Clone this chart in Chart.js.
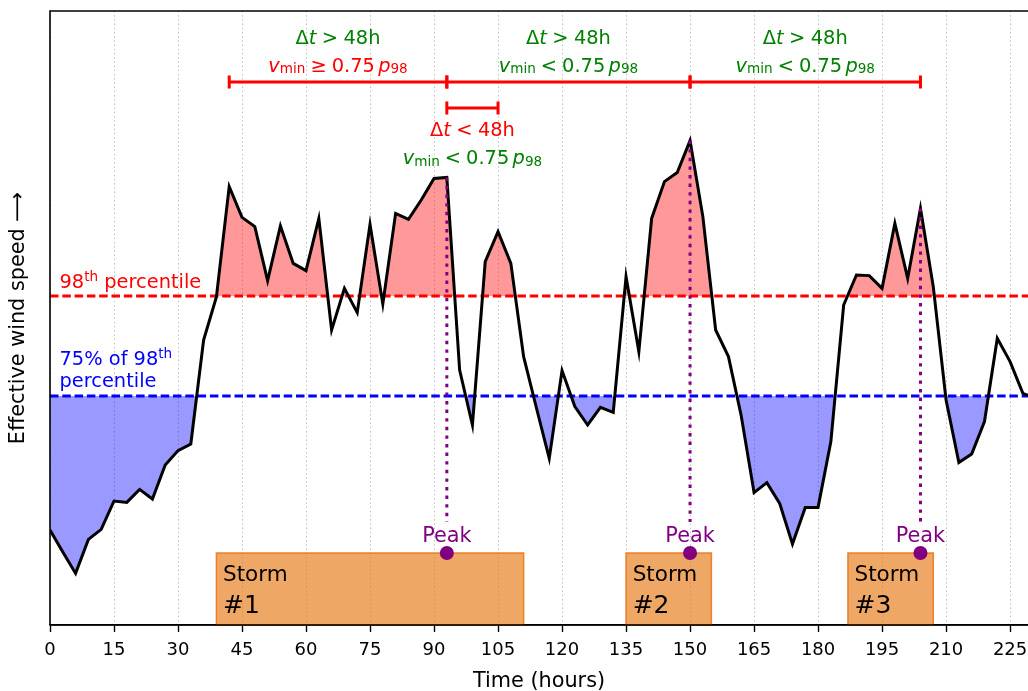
<!DOCTYPE html>
<html>
<head>
<meta charset="utf-8">
<script src="https://cdn.jsdelivr.net/npm/chart.js@4.4.1/dist/chart.umd.min.js"></script>
<style>
  html, body { margin: 0; padding: 0; background: #fff; overflow: hidden; }
  canvas { display: block; }
</style>
</head>
<body>
<canvas id="chart" width="1028" height="691"></canvas>
<script>
// Time axis (hours) and the effective wind speed sampled every 3 hours
const hours = [0, 3, 6, 9, 12, 15, 18, 21, 24, 27, 30, 33, 36, 39, 42, 45, 48, 51, 54, 57,
  60, 63, 66, 69, 72, 75, 78, 81, 84, 87, 90, 93, 96, 99, 102, 105, 108, 111, 114, 117,
  120, 123, 126, 129, 132, 135, 138, 141, 144, 147, 150, 153, 156, 159, 162, 165, 168, 171, 174, 177,
  180, 183, 186, 189, 192, 195, 198, 201, 204, 207, 210, 213, 216, 219, 222, 225, 228, 231];
const windSpeed = [8.3, 7.2, 6.13, 7.83, 8.33, 9.75, 9.68, 10.33, 9.85, 11.55, 12.27, 12.6, 17.8, 19.95, 25.47, 23.93, 23.47, 20.77, 23.5, 21.63,
  21.27, 23.88, 18.3, 20.38, 19.17, 23.58, 19.6, 24.13, 23.83, 24.8, 25.88, 25.93, 16.3, 13.55, 21.72, 23.22, 21.63, 16.97, 14.4, 11.88,
  16.27, 14.47, 13.55, 14.43, 14.18, 20.97, 17.22, 23.88, 25.72, 26.17, 27.77, 23.97, 18.3, 16.97, 14.0, 10.17, 10.67, 9.63, 7.6, 9.43,
  9.43, 12.72, 19.55, 21.05, 21.02, 20.38, 23.63, 20.88, 24.38, 20.47, 14.8, 11.67, 12.1, 13.72, 17.88, 16.72, 15.13, 14.9];

// Thresholds
const p98 = 20;            // 98th percentile
const p98Fraction = 0.75;  // 75% of the 98th percentile
const p75 = p98 * p98Fraction;

// Axis
const xTicks = [0, 15, 30, 45, 60, 75, 90, 105, 120, 135, 150, 165, 180, 195, 210, 225];
const xMin = 0, xMax = 229.2;
const yMin = 3.55, yMax = 34.25;

// Storm peaks and storm windows
const peakHours = [93, 150, 204];
const peakMarkerLevel = 7.15;
const peakLineEnd = 8.7;
const stormStart = [39, 135, 187];
const stormEnd = [111, 155, 207];
const stormTop = 7.15;
const stormNames = ['#1', '#2', '#3'];

// Separation intervals between consecutive peaks
const intervalStart = [42, 93, 150, 93];
const intervalEnd = [93, 150, 204, 105];
const intervalLevel = [30.7, 30.7, 30.7, 29.4];
const intervalDt = ['>', '>', '>', '<'];
const intervalVmin = ['≥', '<', '<', '<'];

const FAMILY = '"DejaVu Sans", "Liberation Sans", sans-serif';
const GREEN = '#008000', RED = '#ff0000', BLUE = '#0000ff', PURPLE = '#800080';

function fontOf(size, italic) {
  return (italic ? 'italic ' : '') + size + 'px ' + FAMILY;
}
function runsWidth(ctx, runs, size) {
  let w = 0;
  for (const r of runs) {
    if (r.gap) { w += r.gap * size; continue; }
    const s = (r.sub || r.sup) ? size * 0.7 : size;
    ctx.font = fontOf(s, r.it);
    w += ctx.measureText(r.t).width;
  }
  return w;
}
function drawRuns(ctx, runs, x, y, size, color, align) {
  const w = runsWidth(ctx, runs, size);
  let cx = align === 'center' ? x - w / 2 : x;
  ctx.fillStyle = color;
  ctx.textAlign = 'left';
  ctx.textBaseline = 'alphabetic';
  for (const r of runs) {
    if (r.gap) { cx += r.gap * size; continue; }
    const s = (r.sub || r.sup) ? size * 0.7 : size;
    ctx.font = fontOf(s, r.it);
    const dy = r.sub ? size * 0.1 : (r.sup ? -size * 0.38 : 0);
    ctx.fillText(r.t, cx, y + dy);
    cx += ctx.measureText(r.t).width;
  }
}
const dtRuns = rel => [{ t: 'Δ' }, { t: 't', it: true }, { gap: 0.28 }, { t: rel }, { gap: 0.28 }, { t: '48h' }];
const vminRuns = rel => [{ t: 'v', it: true }, { t: 'min', sub: true }, { gap: 0.26 }, { t: rel }, { gap: 0.26 },
  { t: '0.75' }, { gap: 0.17 }, { t: 'p', it: true }, { t: '98', sub: true }];

// Storm boxes sit underneath the curves
const stormBoxes = {
  id: 'stormBoxes',
  beforeDatasetsDraw(chart) {
    const { ctx, scales: { x, y }, chartArea } = chart;
    ctx.save();
    for (let i = 0; i < stormStart.length; i++) {
      const l = x.getPixelForValue(stormStart[i]);
      const r = x.getPixelForValue(stormEnd[i]);
      const t = y.getPixelForValue(stormTop);
      const b = chartArea.bottom;
      ctx.fillStyle = 'rgba(232,125,30,0.68)';
      ctx.fillRect(l, t, r - l, b - t);
      ctx.strokeStyle = 'rgba(236,120,25,0.9)';
      ctx.lineWidth = 1.5;
      ctx.strokeRect(l, t, r - l, b - t);
      ctx.fillStyle = '#000';
      ctx.textAlign = 'left';
      ctx.textBaseline = 'alphabetic';
      ctx.font = fontOf(21.5);
      ctx.fillText('Storm', l + 6.6, t + 28);
      ctx.font = fontOf(25);
      ctx.fillText(stormNames[i], l + 6.6, t + 60);
    }
    ctx.restore();
  }
};

// Labels, interval bars and frame
const annotations = {
  id: 'annotations',
  afterDatasetsDraw(chart) {
    const { ctx, scales: { x, y }, chartArea } = chart;
    ctx.save();

    // interval bars with end caps
    for (let i = 0; i < intervalStart.length; i++) {
      const x1 = x.getPixelForValue(intervalStart[i]);
      const x2 = x.getPixelForValue(intervalEnd[i]);
      const py = y.getPixelForValue(intervalLevel[i]);
      ctx.strokeStyle = RED;
      ctx.lineWidth = 3;
      ctx.lineCap = 'butt';
      ctx.beginPath();
      ctx.moveTo(x1, py); ctx.lineTo(x2, py);
      ctx.moveTo(x1, py - 6.5); ctx.lineTo(x1, py + 6.5);
      ctx.moveTo(x2, py - 6.5); ctx.lineTo(x2, py + 6.5);
      ctx.stroke();

      const cx = x.getPixelForValue((intervalStart[i] + intervalEnd[i]) / 2);
      const dtColor = intervalDt[i] === '>' ? GREEN : RED;
      const vColor = intervalVmin[i] === '<' ? GREEN : RED;
      if (intervalDt[i] === '>') {
        drawRuns(ctx, dtRuns(intervalDt[i]), cx, py - 38, 19.4, dtColor, 'center');
        drawRuns(ctx, vminRuns(intervalVmin[i]), cx, py - 10.5, 19.4, vColor, 'center');
      } else {
        drawRuns(ctx, dtRuns(intervalDt[i]), cx, py + 28.4, 19.4, dtColor, 'center');
        drawRuns(ctx, vminRuns(intervalVmin[i]), cx, py + 55.7, 19.4, vColor, 'center');
      }
    }

    // threshold labels
    const yP98 = y.getPixelForValue(p98);
    const yP75 = y.getPixelForValue(p75);
    const lx = chartArea.left + 9.5;
    drawRuns(ctx, [{ t: '98' }, { t: 'th', sup: true }, { t: ' percentile' }], lx, yP98 - 7.7, 19.4, RED, 'left');
    drawRuns(ctx, [{ t: '75% of 98' }, { t: 'th', sup: true }], lx, yP75 - 31, 19.4, BLUE, 'left');
    drawRuns(ctx, [{ t: 'percentile' }], lx, yP75 - 9.3, 19.4, BLUE, 'left');

    // peak labels
    ctx.fillStyle = PURPLE;
    ctx.font = fontOf(20.8);
    ctx.textAlign = 'center';
    ctx.textBaseline = 'alphabetic';
    for (const h of peakHours) {
      ctx.fillText('Peak', x.getPixelForValue(h), y.getPixelForValue(peakMarkerLevel) - 11);
    }
    ctx.restore();
  },
  afterDraw(chart) {
    const { ctx, chartArea } = chart;
    ctx.save();
    // frame
    ctx.strokeStyle = '#000';
    ctx.lineWidth = 1.6;
    ctx.beginPath();
    ctx.moveTo(chartArea.left, chartArea.bottom);
    ctx.lineTo(chartArea.left, chartArea.top);
    ctx.lineTo(chartArea.right + 2, chartArea.top);
    ctx.moveTo(chartArea.left, chartArea.bottom);
    ctx.lineTo(chartArea.right + 2, chartArea.bottom);
    ctx.stroke();

    // y axis title
    ctx.translate(24, (chartArea.top + chartArea.bottom) / 2);
    ctx.rotate(-Math.PI / 2);
    ctx.fillStyle = '#000';
    ctx.font = fontOf(20.8);
    ctx.textAlign = 'center';
    ctx.textBaseline = 'alphabetic';
    ctx.fillText('Effective wind speed \u27F6', 0, 0);
    ctx.restore();
  }
};

const curve = hours.map((h, i) => ({ x: h, y: windSpeed[i] }));
const flat = v => [{ x: hours[0], y: v }, { x: hours[hours.length - 1], y: v }];
const peakLines = peakHours.map(h => ({
  data: [{ x: h, y: windSpeed[hours.indexOf(h)] }, { x: h, y: peakLineEnd }],
  borderColor: PURPLE, borderWidth: 3, borderDash: [3.4, 5.2], borderCapStyle: 'butt',
  pointRadius: 0, fill: false, order: 3
}));

new Chart(document.getElementById('chart'), {
  type: 'line',
  data: {
    datasets: [
      { data: curve, borderWidth: 0, pointRadius: 0, order: 10,
        fill: { target: { value: p98 }, above: 'rgba(255,0,0,0.4)', below: 'rgba(0,0,0,0)' } },
      { data: curve, borderWidth: 0, pointRadius: 0, order: 10,
        fill: { target: { value: p75 }, above: 'rgba(0,0,0,0)', below: 'rgba(0,0,255,0.4)' } },
      { data: flat(p98), borderColor: RED, borderWidth: 3, borderDash: [8.5, 3.8], pointRadius: 0, fill: false, order: 8 },
      { data: flat(p75), borderColor: BLUE, borderWidth: 3, borderDash: [8.5, 3.8], pointRadius: 0, fill: false, order: 8 },
      { data: curve, borderColor: '#000', borderWidth: 3, pointRadius: 0, fill: false, tension: 0,
        borderJoinStyle: 'miter', order: 5 },
      ...peakLines,
      { data: peakHours.map(h => ({ x: h, y: peakMarkerLevel })), showLine: false,
        pointRadius: 7, pointBackgroundColor: PURPLE, pointBorderWidth: 0, order: 1 }
    ]
  },
  options: {
    responsive: false,
    animation: false,
    events: [],
    layout: { autoPadding: false, padding: { left: 50, top: 11, right: 0, bottom: 0 } },
    plugins: { legend: { display: false }, tooltip: { enabled: false } },
    scales: {
      x: {
        type: 'linear', min: xMin, max: xMax,
        afterBuildTicks: s => { s.ticks = xTicks.map(v => ({ value: v })); },
        afterFit: s => { s.height = 66; s.paddingLeft = 0; s.paddingRight = 0; },
        grid: { color: '#bdbdbd', lineWidth: 1, tickLength: 7, tickColor: '#000', tickWidth: 1.4, tickBorderDash: [] },
        border: { display: true, color: '#000', width: 1.6, dash: [1.4, 2.8] },
        ticks: { color: '#000', font: { family: FAMILY, size: 18 }, padding: 8, maxRotation: 0, autoSkip: false,
          callback: v => String(v) },
        title: { display: true, text: 'Time (hours)', color: '#000', font: { family: FAMILY, size: 20.8 },
          padding: { top: 0, bottom: -3 } }
      },
      y: { type: 'linear', display: false, min: yMin, max: yMax }
    }
  },
  plugins: [stormBoxes, annotations]
});
</script>
</body>
</html>
